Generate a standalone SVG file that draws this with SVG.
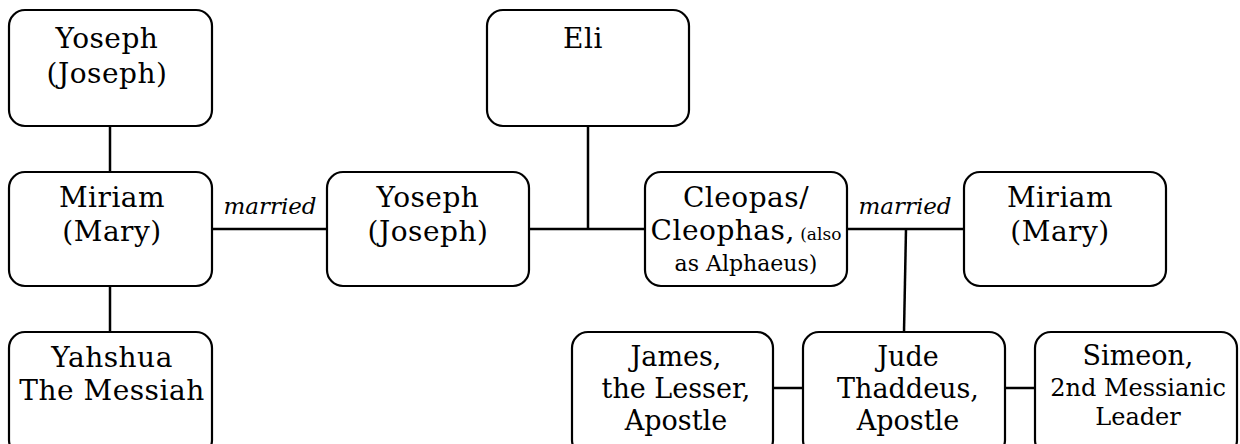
<svg xmlns="http://www.w3.org/2000/svg" width="1240" height="444" viewBox="0 0 1240 444">
<style>
.box{fill:#fff;stroke:#000;stroke-width:2.2}
.t{font-family:"DejaVu Serif","Liberation Serif",serif;font-size:28px;letter-spacing:0.5px;fill:#000;text-anchor:middle}
.b{font-size:27px;letter-spacing:0}
.s{font-size:24px;letter-spacing:0}
.m{font-family:"DejaVu Serif","Liberation Serif",serif;font-size:23px;font-style:italic;fill:#000;text-anchor:middle}
.c{stroke:#000;stroke-width:2.5;fill:none}
</style>
<rect width="1240" height="444" fill="#fff"/>
<g id="connectors">
<line class="c" x1="110" y1="126" x2="110" y2="172"/>
<line class="c" x1="110" y1="286" x2="110" y2="332"/>
<line class="c" x1="212" y1="229" x2="327" y2="229"/>
<line class="c" x1="588" y1="126" x2="588" y2="229"/>
<line class="c" x1="529" y1="229" x2="645" y2="229"/>
<line class="c" x1="847" y1="229" x2="964" y2="229"/>
<line class="c" x1="906" y1="229" x2="904" y2="332"/>
<line class="c" x1="773" y1="388" x2="803" y2="388"/>
<line class="c" x1="1005" y1="388" x2="1035" y2="388"/>
<text class="m" x="270" y="214">married</text>
<text class="m" x="905" y="214">married</text>
</g>
<g id="yoseph-top">
<rect class="box" x="9" y="10" width="203" height="116" rx="16"/>
<text class="t" x="107" y="48">Yoseph</text>
<text class="t" x="107" y="83">(Joseph)</text>
</g>
<g id="miriam-left">
<rect class="box" x="9" y="172" width="203" height="114" rx="16"/>
<text class="t" x="112" y="207">Miriam</text>
<text class="t" x="112" y="241">(Mary)</text>
</g>
<g id="yahshua">
<rect class="box" x="9" y="332" width="203" height="124" rx="16"/>
<text class="t" x="112" y="367">Yahshua</text>
<text class="t" x="112" y="400">The Messiah</text>
</g>
<g id="yoseph-mid">
<rect class="box" x="327" y="172" width="202" height="114" rx="16"/>
<text class="t" x="428" y="207">Yoseph</text>
<text class="t" x="428" y="241">(Joseph)</text>
</g>
<g id="eli">
<rect class="box" x="487" y="10" width="202" height="116" rx="16"/>
<text class="t" x="583" y="48">Eli</text>
</g>
<g id="cleopas">
<rect class="box" x="645" y="172" width="202" height="114" rx="16"/>
<text class="t" x="746" y="207">Cleopas/</text>
<text class="t" x="746" y="240">Cleophas,<tspan style="font-size:17px;letter-spacing:0"> (also</tspan></text>
<text class="t s" x="746" y="271" style="font-size:22px">as Alphaeus)</text>
</g>
<g id="miriam-right">
<rect class="box" x="964" y="172" width="202" height="114" rx="16"/>
<text class="t" x="1060" y="207">Miriam</text>
<text class="t" x="1060" y="241">(Mary)</text>
</g>
<g id="james">
<rect class="box" x="572" y="332" width="201" height="124" rx="16"/>
<text class="t b" x="676" y="366">James,</text>
<text class="t b" x="676" y="398">the Lesser,</text>
<text class="t b" x="676" y="430">Apostle</text>
</g>
<g id="jude">
<rect class="box" x="803" y="332" width="202" height="124" rx="16"/>
<text class="t b" x="908" y="366">Jude</text>
<text class="t b" x="908" y="398">Thaddeus,</text>
<text class="t b" x="908" y="430">Apostle</text>
</g>
<g id="simeon">
<rect class="box" x="1035" y="332" width="202" height="124" rx="16"/>
<text class="t b" x="1138" y="365">Simeon,</text>
<text class="t s" x="1138" y="396">2nd Messianic</text>
<text class="t s" x="1138" y="425">Leader</text>
</g>
</svg>
